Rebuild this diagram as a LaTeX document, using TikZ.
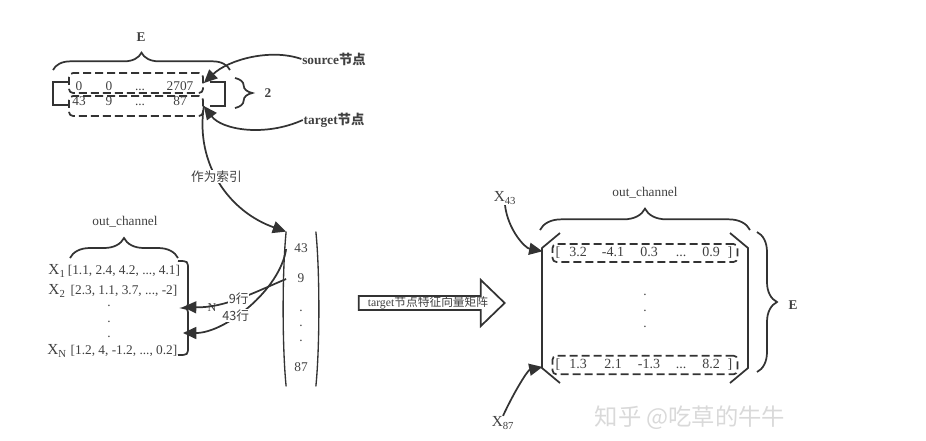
\documentclass[tikz,border=0pt]{standalone}
\usepackage{fontspec}
\setmainfont{Liberation Serif}
\newfontfamily\cjk{Noto Sans CJK SC}
\usepackage{xcolor}
\colorlet{LINECOLOR}{black!80}
\colorlet{TEXTCOLOR}{black!75}
\colorlet{MARKCOLOR}{gray!30}
\usepackage{tikz}
\usetikzlibrary{arrows.meta,positioning,calc,decorations.pathreplacing,shapes.arrows}
\tikzset{
  main-style/.style = {
    x=0.75pt, y=-0.75pt,
    line width=1.3pt, draw=LINECOLOR,
    every node/.style = {text=TEXTCOLOR}
  },
  num-style/.style = {
    inner sep=0pt, text height=7pt, text depth=2pt,
    font=\fontsize{10}{12}\selectfont
  },
  cell-style/.style = {
    inner sep=0pt, text height=7.5pt, text depth=2pt,
    font=\fontsize{10.5}{12}\selectfont
  },
  dot-style/.style = {
    inner sep=0pt,
    font=\fontsize{10}{12}\selectfont
  },
  bold-style/.style = {
    inner sep=0pt,
    font=\fontsize{10}{12}\selectfont\bfseries
  },
  xname-style/.style = {
    inner sep=0pt,
    font=\fontsize{11.5}{13}\selectfont
  },
  row-style/.style = {
    rectangle, rounded corners=3pt, draw=LINECOLOR,
    dash pattern=on 6pt off 3pt,
    line width=1.3pt,
    minimum width=#1,
    minimum height=15pt,
    inner sep=0pt
  },
  vec-style/.style = {
    minimum width=21pt, minimum height=114.75pt, inner sep=0pt
  },
  brace-style/.style = {
    decorate, decoration={brace, amplitude=#1}, draw=LINECOLOR
  },
  link-style/.style = {
    draw=LINECOLOR, -{Triangle[length=10pt,width=9pt]}
  },
  label-style/.style = {
    fill=white, inner sep=0.5pt,
    font=\cjk\fontsize{9.5}{11}\selectfont
  },
  arrow-style/.style = {
    single arrow, draw=LINECOLOR, line width=1.3pt,
    single arrow head extend=12pt,
    single arrow tip angle=88,
    minimum height=109.5pt,
    minimum width=12pt,
    inner sep=0pt,
    font=\fontsize{8.8}{10}\selectfont
  },
  mark-style/.style = {
    text=MARKCOLOR, inner sep=0pt,
    font=\cjk\fontsize{17.5}{20}\selectfont
  }
}
\newcommand\cnName[1]{{\cjk #1}}
\def\createEdgeRow name:#1 y:#2 cells:#3,#4,#5,#6;{
  \node[num-style] (#1-a) at (79,#2) {#3};
  \node[num-style] (#1-b) at (109,#2) {#4};
  \node[num-style] (#1-c) at (140,#2) {#5};
  \node[num-style] (#1-d) at (180,#2) {#6};
}
\def\createFeatRow name:#1 y:#2 cells:#3,#4,#5,#6,#7;{
  \node[cell-style] (#1-l) at (558,#2) {[};
  \node[cell-style] (#1-a) at (578,#2) {#3};
  \node[cell-style] (#1-b) at (613,#2) {#4};
  \node[cell-style] (#1-c) at (649,#2) {#5};
  \node[cell-style] (#1-d) at (681,#2) {#6};
  \node[cell-style] (#1-e) at (711,#2) {#7};
  \node[cell-style] (#1-r) at (730,#2) {]};
}

\begin{document}
\begin{tikzpicture}[main-style]
  \useasboundingbox (0,0) rectangle (926,440);

  % edge_index
  \node[bold-style] (etop) at (141,37) {E};
  \draw[brace-style=13pt] (53,70) -- (230,70);
  \node[row-style=100.5pt] (srcrow) at (136,83) {};
  \node[row-style=100.5pt] (tgtrow) at (136,106) {};
  \createEdgeRow name:s y:87 cells:0,0,...,2707;
  \createEdgeRow name:t y:102 cells:43,9,...,87;
  \draw (68,82) -- (53,82) -- (53,105) -- (68,105);
  \draw (210,82) -- (225,82) -- (225,106) -- (210,106);
  \draw[brace-style=13pt] (235,78) -- (235,108);
  \node[bold-style] (two) at (268,93) {2};

  \node[bold-style] (src) at (334,59) {source\cnName{节点}};
  \node[bold-style] (tgt) at (334,120) {target\cnName{节点}};
  \draw[link-style] (src.west) .. controls (270,48) and (228,60) .. (srcrow.east);
  \draw[link-style] (tgt.west) .. controls (265,137) and (222,130) .. (tgtrow.east);

  % index vector
  \node[vec-style] (idxvec) at (301,309) {};
  \draw[line width=1pt] (idxvec.north west) .. controls +(-4,40) and +(-4,-40) .. (idxvec.south west);
  \draw[line width=1pt] (idxvec.north east) .. controls +(4,40) and +(4,-40) .. (idxvec.south east);
  \node[num-style, minimum width=21pt] (n43) at (301,249) {43};
  \node[num-style, minimum width=21pt] (n9) at (301,279) {9};
  \node[dot-style] (vd1) at (301,311) {.};
  \node[dot-style] (vd2) at (301,326) {.};
  \node[dot-style] (vd3) at (301,341) {.};
  \node[num-style, minimum width=21pt] (n87) at (301,368) {87};
  \draw[link-style] (tgtrow.east) .. controls (195,165) and (230,212) .. (idxvec.north west)
    node[label-style, pos=0.45] (idxlbl) {作为索引};

  % node features
  \node[num-style] (outl) at (125,222) {out\_channel};
  \draw[brace-style=15pt] (70,258) -- (178,258);
  \node[xname-style] (x1) at (57,271) {X\textsubscript{1}};
  \node[num-style] (v1) at (124,271) {[1.1, 2.4, 4.2, ..., 4.1]};
  \node[xname-style] (x2) at (57,291) {X\textsubscript{2}};
  \node[num-style] (v2) at (124,291) {[2.3, 1.1, 3.7, ..., -2]};
  \node[dot-style] (xd1) at (109,306) {.};
  \node[dot-style] (xd2) at (109,322) {.};
  \node[dot-style] (xd3) at (109,337) {.};
  \node[xname-style] (xn) at (57,351) {X\textsubscript{N}};
  \node[num-style] (vn) at (124,351) {[1.2, 4, -1.2, ..., 0.2]};
  \draw (178,261) .. controls (188,261) .. (188,270) -- (188,300)
    .. controls (188,307) .. (183,308) .. controls (188,309) .. (188,316)
    -- (188,346) .. controls (188,355) .. (178,355);
  \node[dot-style, font=\fontsize{9}{10}\selectfont] (nlabel) at (212,308) {N};
  \coordinate (nup) at (183,307);
  \coordinate (ndown) at (183,333);
  \draw[link-style] (n43.west) .. controls (280,290) and (225,333) .. (ndown)
    node[label-style, pos=0.6] (lbl43) {43行};
  \draw[link-style] (n9.west) .. controls (255,292) and (225,308) .. (nup)
    node[label-style, pos=0.5] (lbl9) {9行};

  % lookup
  \node[arrow-style] (bigarrow) at (428,303) {target\cnName{节点特征向量矩阵}};

  % target features
  \node[num-style] (outr) at (645,193) {out\_channel};
  \draw[brace-style=16pt] (540,230) -- (750,230);
  \draw (560,233) -- (542,248) -- (542,368) -- (560,383);
  \draw (730,233) -- (748,248) -- (748,368) -- (730,383);
  \node[row-style=138.75pt, minimum height=13.5pt] (rowa) at (645,253) {};
  \node[row-style=138.75pt, minimum height=14pt] (rowb) at (645,365) {};
  \createFeatRow name:ra y:253 cells:3.2,-4.1,0.3,...,0.9;
  \createFeatRow name:rb y:365 cells:1.3,2.1,-1.3,...,8.2;
  \node[dot-style] (rd1) at (645,295) {.};
  \node[dot-style] (rd2) at (645,311) {.};
  \node[dot-style] (rd3) at (645,327) {.};
  \draw[brace-style=15pt] (757,232) -- (757,372);
  \node[bold-style] (eright) at (793,305) {E};

  \node[xname-style] (x43) at (505,198) {X\textsubscript{43}};
  \node[xname-style] (x87) at (503,423) {X\textsubscript{87}};
  \draw[link-style, shorten >=7pt] (x43.south) .. controls (508,230) and (525,248) .. (rowa.west);
  \draw[link-style, shorten >=7pt] (x87.north) .. controls (515,390) and (528,370) .. (rowb.west);

  \node[mark-style] (mark) at (690,418) {知乎 @吃草的牛牛};
\end{tikzpicture}
\end{document}
